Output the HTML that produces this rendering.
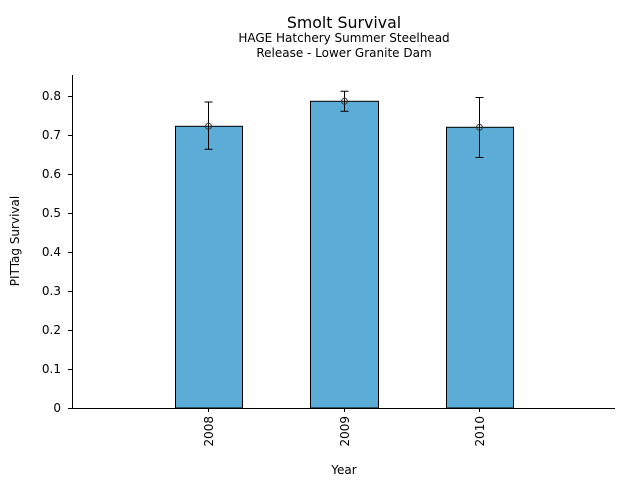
<!DOCTYPE html><html><head><style>body{margin:0;background:#fff}svg{display:block}text{font-family:"DejaVu Sans","Liberation Sans",sans-serif;fill:#000}</style></head><body>
<svg width="640" height="480" xmlns="http://www.w3.org/2000/svg">
<text x="344" y="28" font-size="15.8" text-anchor="middle">Smolt Survival</text>
<text x="344" y="42" font-size="12" text-anchor="middle">HAGE Hatchery Summer Steelhead</text>
<text x="344" y="57" font-size="12" text-anchor="middle">Release - Lower Granite Dam</text>
<g fill="#5bacd6" stroke="#000" stroke-width="1">
<rect x="175.5" y="126.3" width="67" height="281.7"/>
<rect x="310.5" y="101.3" width="68" height="306.7"/>
<rect x="446.5" y="127.3" width="67" height="280.7"/>
</g>
<g stroke="#000" stroke-width="1" fill="none">
<path d="M208.5 102V149.3M204.5 102H212.5M204.5 149.3H212.5"/>
<path d="M344.5 91.3V111.3M340.5 91.3H348.5M340.5 111.3H348.5"/>
<path d="M479.5 97.5V157.5M475.5 97.5H483.5M475.5 157.5H483.5"/>
<circle cx="208.5" cy="126.3" r="3" stroke="#333"/>
<circle cx="344.5" cy="101.3" r="3" stroke="#333"/>
<circle cx="479.5" cy="127.3" r="3" stroke="#333"/>
<path d="M72.5 75V408.5H615"/>
<path d="M68 408.5h4M68 369.5h4M68 330.5h4M68 291.5h4M68 252.5h4M68 213.5h4M68 174.5h4M68 135.5h4M68 96.5h4"/>
<path d="M208.5 408v4M344.5 408v4M479.5 408v4"/>
</g>
<g font-size="12" text-anchor="end">
<text x="61" y="412">0</text><text x="61" y="373">0.1</text><text x="61" y="334">0.2</text><text x="61" y="295">0.3</text><text x="61" y="256">0.4</text><text x="61" y="217">0.5</text><text x="61" y="178">0.6</text><text x="61" y="139">0.7</text><text x="61" y="100">0.8</text>
</g>
<g font-size="12" text-anchor="end">
<text transform="translate(213,416) rotate(-90)">2008</text>
<text transform="translate(349,416) rotate(-90)">2009</text>
<text transform="translate(484,416) rotate(-90)">2010</text>
</g>
<text x="344" y="474" font-size="12" text-anchor="middle">Year</text>
<text transform="translate(19,241) rotate(-90)" font-size="12" text-anchor="middle">PITTag Survival</text>
</svg></body></html>
